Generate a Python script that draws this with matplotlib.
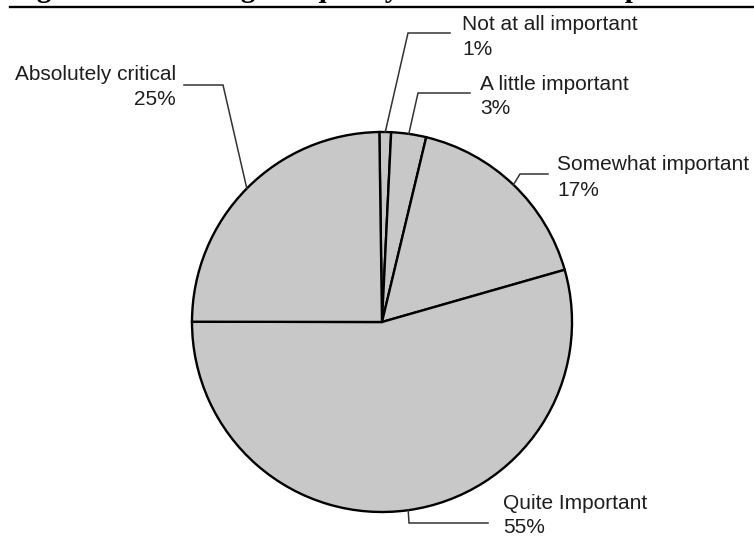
import numpy as np
import matplotlib
matplotlib.use("Agg")
import matplotlib.pyplot as plt

# data
labels = ["Not at all important", "A little important", "Somewhat important",
          "Quite Important", "Absolutely critical"]
shares = [1, 3, 17, 55, 25]
pct_text = ["1%", "3%", "17%", "55%", "25%"]

title = "Figure 4: Percentage frequency distribution of importance"

W, H = 754, 537
fig = plt.figure(figsize=(W / 100, H / 100), dpi=100)
ax = fig.add_axes([0, 0, 1, 1])

cx, cy, r = 382, H - 322, 190
wedges, _ = ax.pie(shares, center=(cx, cy), radius=r, startangle=90.8,
                   counterclock=False, colors=["#c8c8c8"] * len(shares),
                   wedgeprops=dict(edgecolor="black", linewidth=1.7))
ax.set_xlim(0, W)
ax.set_ylim(0, H)
ax.set_aspect("equal")
ax.axis("off")

# label layout in pixel coords (top-left origin): elbow, end of leader, text x, baselines, align
layout = [
    ((408, 33), (450, 33), 462, (30, 55), "left"),
    ((418, 93), (470, 93), 480, (90, 114), "left"),
    ((520, 174), (548, 174), 557, (170, 196), "left"),
    ((409, 523), (488, 523), 503, (509, 533), "left"),
    ((223, 85), (184, 85), 176, (80, 105), "right"),
]

txt_kw = dict(family="Liberation Sans", fontsize=15, color="#1e1e1e")
for w, lab, pct, (elbow, end, tx, (b1, b2), ha) in zip(wedges, labels, pct_text, layout):
    mid = np.deg2rad((w.theta1 + w.theta2) / 2)
    ax_ = cx + r * np.cos(mid)
    ay_ = cy + r * np.sin(mid)
    ax.plot([ax_, elbow[0], end[0]], [ay_, H - elbow[1], H - end[1]],
            color="#333333", lw=1.1, solid_joinstyle="miter")
    ax.text(tx, H - b1, lab, ha=ha, va="baseline", **txt_kw)
    ax.text(tx, H - b2, pct, ha=ha, va="baseline", **txt_kw)

# clipped, underlined title at the very top
fig.text(11 / W, 1 + 3 / H, title, family="Liberation Serif", weight="bold",
         fontsize=21, va="baseline", ha="left", color="black")
ax.plot([10, W], [H - 7.3, H - 7.3], color="black", lw=1.7, clip_on=False)

fig.savefig("out.png", dpi=100)
